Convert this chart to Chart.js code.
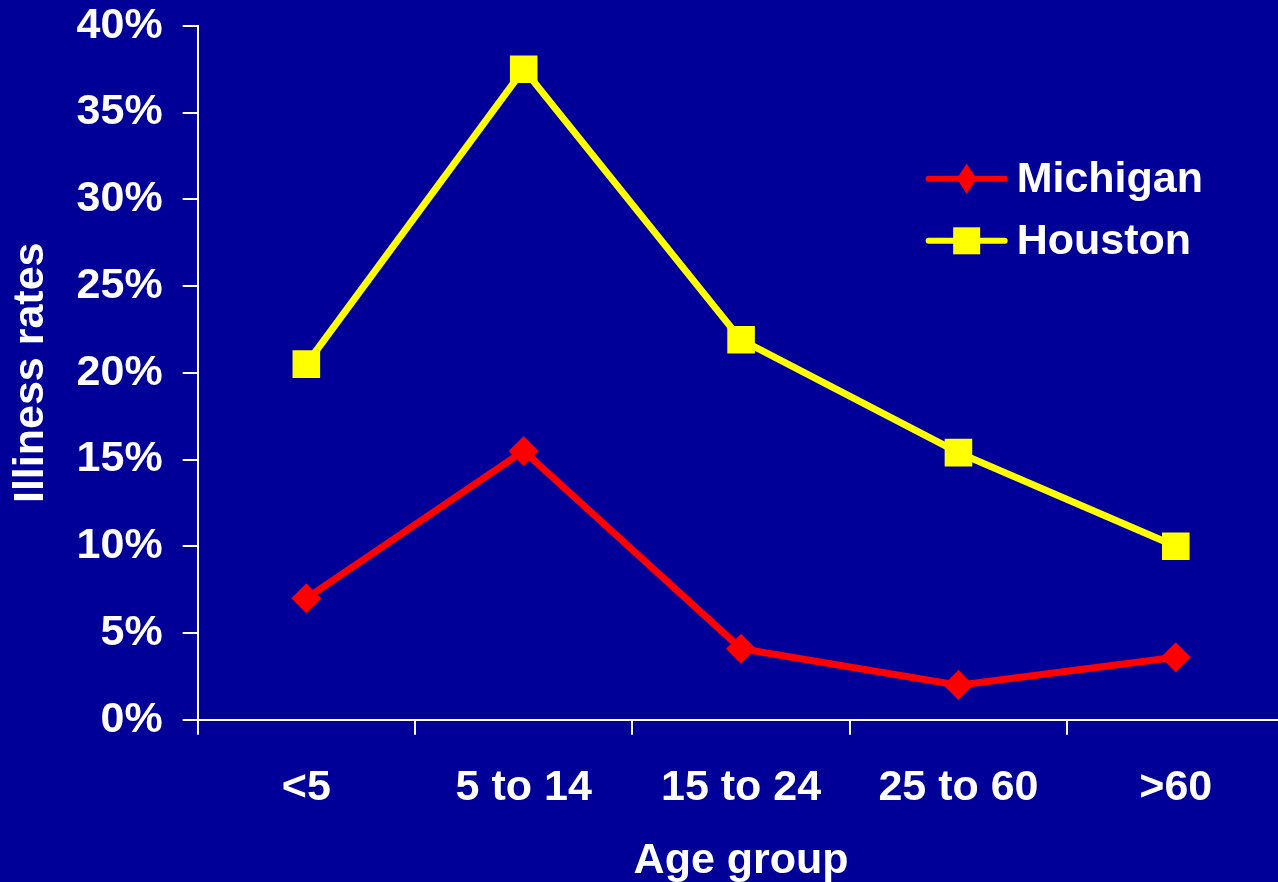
<!DOCTYPE html>
<html>
<head>
<meta charset="utf-8">
<script src="https://cdn.jsdelivr.net/npm/chart.js@4.4.0/dist/chart.umd.min.js"></script>
<style>
   html, body { margin: 0; padding: 0; background: #000099; overflow: hidden; }
   #chartResult { display: block; margin-top: -20px; }
</style>
</head>
<body>
<canvas id="chartResult" width="1304" height="907"></canvas>
<script>
// Data
const ageGroups = ['<5', '5 to 14', '15 to 24', '25 to 60', '>60']
const michigan = [7.0, 15.5, 4.1, 2.0, 3.6]
const houston = [20.5, 37.5, 21.9, 15.4, 10.0]
const yTicks = [0, 5, 10, 15, 20, 25, 30, 35, 40]

const fontFamily = '"Liberation Sans", Arial, sans-serif'
const white = '#FFFFFF'

// legend drawn by hand: line with the marker in the middle
const legendLines = {
   id: 'legendLines',
   afterDraw(chart) {
      const ctx = chart.ctx
      const area = chart.chartArea
      ctx.save()
      chart.data.datasets.forEach((ds, i) => {
         const y = area.top + 153 + i * 62
         const x0 = area.left + 731
         const x1 = x0 + 76
         const cx = (x0 + x1) / 2
         ctx.strokeStyle = ds.borderColor
         ctx.lineWidth = 6
         ctx.lineCap = 'round'
         ctx.beginPath()
         ctx.moveTo(x0, y)
         ctx.lineTo(x1, y)
         ctx.stroke()
         ctx.fillStyle = ds.borderColor
         ctx.beginPath()
         if (ds.pointStyle === 'rectRot') {
            ctx.moveTo(cx, y - 15)
            ctx.lineTo(cx + 10, y)
            ctx.lineTo(cx, y + 15)
            ctx.lineTo(cx - 10, y)
            ctx.closePath()
         } else {
            ctx.rect(cx - 13.5, y - 13.5, 27, 27)
         }
         ctx.fill()
         ctx.fillStyle = white
         ctx.font = 'bold 43px ' + fontFamily
         ctx.textAlign = 'left'
         ctx.textBaseline = 'middle'
         ctx.fillText(ds.label, x1 + 12, y + 1)
      })
      ctx.restore()
   }
}

const ctx = document.getElementById('chartResult')
const myLineChart = new Chart(ctx, {
   type: 'line',
   data: {
      labels: ageGroups,
      datasets: [{
         label: 'Michigan',
         data: michigan,
         borderColor: '#FF0000',
         backgroundColor: '#FF0000',
         borderWidth: 7,
         pointStyle: 'rectRot',
         pointRadius: 15,
         pointBorderWidth: 0,
         tension: 0
      }, {
         label: 'Houston',
         data: houston,
         borderColor: '#FFFF00',
         backgroundColor: '#FFFF00',
         borderWidth: 7,
         pointStyle: 'rect',
         pointRadius: 19.5,
         pointBorderWidth: 0,
         tension: 0
      }]
   },
   options: {
      responsive: false,
      animation: false,
      events: [],
      layout: { padding: { left: 5, top: 8, right: 4, bottom: 0 } },
      plugins: {
         legend: { display: false },
         tooltip: { enabled: false }
      },
      scales: {
         x: {
            offset: true,
            grid: {
               offset: true,
               drawOnChartArea: false,
               drawTicks: true,
               tickLength: 15,
               color: white,
               lineWidth: 2
            },
            border: { color: white, width: 2 },
            ticks: {
               color: white,
               padding: 28,
               maxRotation: 0,
               font: { family: fontFamily, size: 43, weight: 'bold' }
            },
            title: {
               display: true,
               text: 'Age group',
               color: white,
               padding: { top: -7, bottom: 0 },
               font: { family: fontFamily, size: 43, weight: 'bold' }
            }
         },
         y: {
            min: 0,
            max: 40,
            afterBuildTicks: (axis) => { axis.ticks = yTicks.map(v => ({ value: v })) },
            grid: {
               drawOnChartArea: false,
               drawTicks: true,
               tickLength: 15,
               color: white,
               lineWidth: 2
            },
            border: { color: white, width: 2 },
            ticks: {
               color: white,
               padding: 20,
               callback: (v) => v + '%',
               font: { family: fontFamily, size: 43, weight: 'bold' }
            },
            title: {
               display: true,
               text: 'Illiness rates',
               color: white,
               padding: { top: 0, bottom: 0 },
               font: { family: fontFamily, size: 43, weight: 'bold' }
            }
         }
      }
   },
   plugins: [legendLines]
})
</script>
</body>
</html>
